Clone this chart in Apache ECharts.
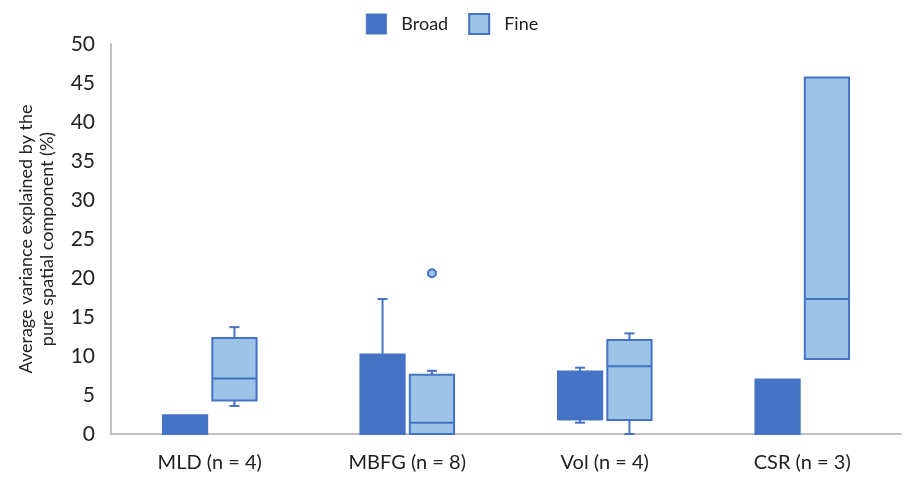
<!DOCTYPE html>
<html>
<head>
<meta charset="utf-8">
<script src="https://cdn.jsdelivr.net/npm/echarts@6/dist/echarts.min.js"></script>
<style>html,body{margin:0;padding:0;background:#fff}#main{width:904px;height:479px}</style>
</head>
<body>
<div id="main"></div>
<script>
var categories = ['MLD (n = 4)', 'MBFG (n = 8)', 'Vol (n = 4)', 'CSR (n = 3)']
// each row: [min, q1, median, q3, max]
var broad = [
	[0, 0, 0, 2.4, 2.4],
	[0, 0, 0, 10.2, 17.3],
	[1.45, 1.9, 1.9, 8.0, 8.5],
	[0, 0, 0, 7.0, 7.0]
]
var fine = [
	[3.6, 4.3, 7.1, 12.3, 13.7],
	[0, 0, 1.45, 7.6, 8.1],
	[0, 1.8, 8.7, 12.05, 12.9],
	[9.6, 9.6, 17.3, 45.7, 45.7]
]
// [category index, value]
var fineOutliers = [[1, 20.6]]

var BLUE = '#4472C4'
var LIGHT = '#9DC3E6'
var FONT = 'Lato'

function withIndex(rows){
	let out = []
	for(let i=0,len=rows.length;i<len;i++){
		out.push([i].concat(rows[i]))
	}
	return out
}

function boxRender(offset, fill){
	return function(params, api){
		let band = api.size([1, 0])[0]
		let cat = api.value(0)
		let cx = api.coord([cat, 0])[0] + band * offset
		let half = band * 0.112
		let y = function(i){ return api.coord([cat, api.value(i)])[1] }
		let vmin = y(1), q1 = y(2), med = y(3), q3 = y(4), vmax = y(5)
		let ls = {stroke: BLUE, lineWidth: 2}
		let kids = []
		if(vmax < q3 - 0.5){
			kids.push({type: 'line', shape: {x1: cx, y1: q3, x2: cx, y2: vmax}, style: ls})
			kids.push({type: 'line', shape: {x1: cx - 5, y1: vmax, x2: cx + 5, y2: vmax}, style: ls})
		}
		if(vmin > q1 + 0.5){
			kids.push({type: 'line', shape: {x1: cx, y1: q1, x2: cx, y2: vmin}, style: ls})
			kids.push({type: 'line', shape: {x1: cx - 5, y1: vmin, x2: cx + 5, y2: vmin}, style: ls})
		}
		kids.push({type: 'rect', shape: {x: cx - half, y: q3, width: half * 2, height: q1 - q3},
			style: {fill: fill, stroke: BLUE, lineWidth: 2}})
		kids.push({type: 'line', shape: {x1: cx - half, y1: med, x2: cx + half, y2: med}, style: ls})
		return {type: 'group', children: kids}
	}
}

function outlierRender(offset){
	return function(params, api){
		let band = api.size([1, 0])[0]
		let p = api.coord([api.value(0), api.value(1)])
		return {type: 'circle', shape: {cx: p[0] + band * offset, cy: p[1], r: 4},
			style: {fill: LIGHT, stroke: BLUE, lineWidth: 2}}
	}
}

var chart = echarts.init(document.getElementById('main'))
var option = {
	animation: false,
	textStyle: {fontFamily: FONT},
	legend: {
		top: 8,
		left: 'center',
		itemWidth: 20,
		itemHeight: 20,
		itemGap: 20,
		textStyle: {fontSize: 18, color: '#222', fontFamily: FONT, padding: [0, 0, 0, 10]},
		data: [
			{name: 'Broad', icon: 'rect', itemStyle: {color: BLUE, borderColor: BLUE, borderWidth: 1}},
			{name: 'Fine', icon: 'rect', itemStyle: {color: LIGHT, borderColor: BLUE, borderWidth: 2}}
		]
	},
	grid: {left: 111, right: 3, top: 44, bottom: 45},
	xAxis: {
		type: 'category',
		data: categories,
		axisLine: {lineStyle: {color: '#BFBFBF', width: 2}},
		axisTick: {show: false},
		axisLabel: {fontSize: 20, color: '#222', margin: 19, fontFamily: FONT}
	},
	yAxis: {
		type: 'value',
		min: 0,
		max: 50,
		interval: 5,
		name: 'Average variance explained by the\npure spatial component (%)',
		nameLocation: 'middle',
		nameGap: 53,
		nameTextStyle: {fontSize: 18, color: '#222', lineHeight: 21, fontFamily: FONT},
		axisLine: {show: true, lineStyle: {color: '#BFBFBF', width: 2}},
		axisTick: {show: false},
		splitLine: {show: false},
		axisLabel: {fontSize: 21, color: '#222', margin: 16, fontFamily: FONT}
	},
	series: [
		{
			name: 'Broad',
			type: 'custom',
			itemStyle: {color: BLUE},
			encode: {x: 0, y: [1, 2, 3, 4, 5]},
			renderItem: boxRender(-0.125, BLUE),
			data: withIndex(broad)
		},
		{
			name: 'Fine',
			type: 'custom',
			itemStyle: {color: LIGHT},
			encode: {x: 0, y: [1, 2, 3, 4, 5]},
			renderItem: boxRender(0.125, LIGHT),
			data: withIndex(fine)
		},
		{
			name: 'Fine',
			type: 'custom',
			itemStyle: {color: LIGHT},
			encode: {x: 0, y: 1},
			renderItem: outlierRender(0.125),
			data: fineOutliers
		}
	]
}
chart.setOption(option)
</script>
</body>
</html>
